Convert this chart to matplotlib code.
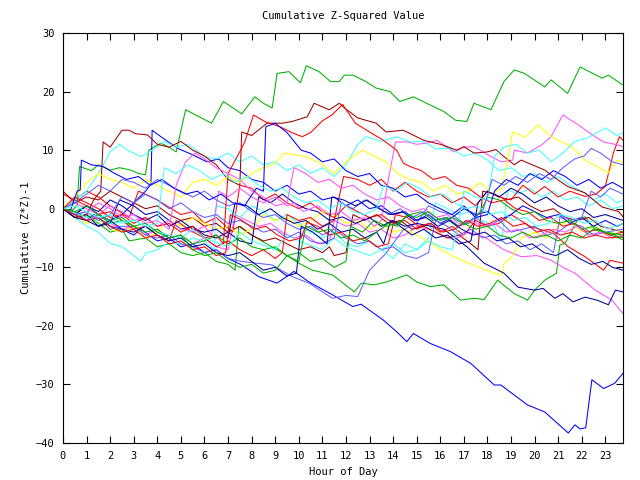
import numpy as np
import matplotlib
matplotlib.use('Agg')
import matplotlib.pyplot as plt

# colours as seen in the reference (gnuplot-like palette)
RED, GREEN, BLUE = '#ff0000', '#00b000', '#0000ff'
MAG, CYAN, DRED = '#ff50ff', '#40ffff', '#a00000'
YEL, LBLUE, NAVY = '#ffff00', '#6060ff', '#0000a0'

# each series: (hour, cumulative value) points
green_top = [(0,0),(0.3,-0.5),(0.6,0.5),(0.7,7.2),(1.2,6.5),(1.5,7.5),(2,6.6),(2.4,7),(2.87,6.6),(3.2,6),(3.5,5.8),(3.64,10),(4.15,11.2),(4.5,10.5),(4.8,9.7),(5.2,16.9),(5.87,15.5),(6.3,14.6),(6.8,18.3),(7.1,17.5),(7.58,16.2),(8.14,19.1),(8.5,18),(8.87,17.2),(9.08,23.1),(9.58,23.4),(10.07,21.5),(10.32,24.4),(10.86,23.4),(11.35,21.7),(11.72,21.7),(11.93,22.8),(12.3,22.8),(12.8,21.8),(13.28,20.6),(13.86,20),(14.29,18.3),(14.86,19.1),(15.42,18),(16.15,16.6),(16.65,15.1),(17.13,14.9),(17.43,18),(18.15,16.9),(18.7,21.7),(19.14,23.7),(19.57,23.1),(20.43,20.8),(20.7,22),(21.4,19.7),(21.93,24.2),(22.86,22.3),(23.13,22.8),(23.75,21.1)]
blue_low = [(0,0),(0.5,-1),(1,-2),(1.3,-1),(2,-3),(2.5,-3.5),(3,-4.5),(3.3,-3.5),(4,-5.5),(4.5,-5),(5,-6.5),(5.5,-6),(6,-7.5),(6.5,-7),(7,-8.5),(7.58,-9.6),(8.3,-11.6),(9.08,-12.7),(9.8,-10.7),(10.43,-12.5),(11.43,-14.7),(12.29,-16.7),(12.64,-16.3),(13.58,-19),(14.15,-21),(14.58,-22.7),(14.86,-21.3),(15.57,-23),(16.43,-24.4),(17.29,-26.4),(18.29,-30.1),(18.57,-30.1),(19.7,-33.5),(20.43,-34.7),(21.43,-38.3),(21.71,-36.9),(21.93,-37.6),(22.17,-37.4),(22.43,-29.2),(22.93,-30.7),(23.4,-29.8),(23.75,-28.1)]
green_low = [(0,0),(0.5,-1.5),(1,-1),(1.5,-2.5),(2,-4),(2.5,-3.5),(2.8,-5.5),(3.5,-5),(4,-6.5),(4.5,-6),(5,-7.5),(5.5,-8),(6,-7.5),(6.5,-9),(7,-9.5),(7.3,-10.5),(7.45,-3),(8,-4.5),(8.72,-6.2),(9.3,-7.5),(10,-9.3),(10.58,-10.5),(11.43,-11.3),(12.36,-14.2),(12.65,-12.7),(13.2,-13),(13.72,-12.5),(14.58,-11.3),(15,-12.5),(15.57,-13.3),(16.15,-13),(16.86,-15.6),(17.43,-15.3),(17.86,-15.5),(18.43,-12.2),(19.14,-14.5),(19.7,-15.6),(20,-13.9),(20.43,-12.2),(20.93,-11),(21.07,-6.2),(21.29,-5.9),(21.86,-1.6),(22.14,-1.4),(22.57,-3.6),(23.43,-4.8),(23.75,-5.3)]
lblue_dip = [(0,0),(0.5,-0.5),(1,-2),(1.5,-1.5),(2,-3.5),(2.5,-3),(3,-3),(3.5,-4.5),(4,-5),(4.5,-4.5),(5,-6),(5.5,-6.5),(6,-7.5),(6.5,-7),(7,-8.5),(7.58,-9),(8.2,-9.3),(8.87,-9.6),(9.72,-11.6),(10.43,-12.7),(11.43,-15.3),(12,-14.8),(12.5,-15),(13,-10.5),(13.7,-7.6),(14.43,-3.6),(15,-2.5),(15.5,0.5),(16,-0.5),(16.5,-1),(17,-2.5),(17.5,-1.5),(18,-3),(18.5,-2),(19,-4),(19.5,-3.5),(20,-3),(20.5,-4.5),(21,-4),(21.5,-2.5),(22,-3),(22.5,-4.5),(23,-4),(23.75,-3.5)]
navy_low = [(0,0),(0.5,-1.5),(1,-1),(1.5,-3),(2,-2.5),(2.4,1.5),(3,0.5),(3.5,-1),(4,-0.5),(4.5,-2),(5,-3.5),(5.5,-3),(6,-4.5),(6.5,-5),(7,-4),(7.5,-5.5),(8,-6),(8.3,2),(8.8,1),(9.3,2.5),(9.8,1),(10.3,0),(10.8,-0.5),(11.3,-2),(11.86,-1.4),(12.4,-2.5),(13,-1.5),(13.5,-3),(14,-2),(14.5,-3),(15,-2.5),(15.6,-3),(16.15,-3.5),(17.13,-6.5),(17.86,-9.3),(18.7,-11),(19.3,-13.4),(20,-13.9),(20.36,-13.6),(20.86,-15.3),(21.2,-14.5),(21.63,-15.9),(22.14,-15.1),(22.64,-15.6),(23.13,-16.4),(23.43,-13.9),(23.75,-14.2)]
mag_low = [(0,0),(0.5,-1),(1,-2),(1.5,-1),(2,-2.5),(2.5,-3.5),(3,-3),(3.5,-4.5),(4,-3.5),(4.5,-5),(5,-4.5),(5.5,-6),(6,-5),(6.5,-6.5),(7,-7),(7.3,-1),(7.8,-2),(8.3,-3),(8.8,-2.5),(9.3,-4),(9.8,-5),(10.3,-4.5),(10.8,-6),(11.3,-5.5),(11.5,-2),(12,-3),(12.5,-2.5),(13,-4),(13.5,-3.5),(14,-5),(14.5,-4.5),(15,-3),(15.57,-3.6),(16.1,-4.5),(16.57,-5.3),(17.2,-4),(17.86,-4.8),(18.7,-7),(19.43,-8.2),(20.1,-8),(20.7,-8.8),(21.2,-10),(21.71,-11),(22.57,-13.9),(23.28,-15.6),(23.75,-17.9)]
red_low = [(0,2.5),(0.5,1.5),(1,3),(1.5,2),(2,0.5),(2.8,-1.5),(3.2,3),(4,1.5),(5,-1),(5.5,-0.5),(6,-2.5),(6.5,-1.5),(7.2,-4),(7.5,4),(8,3.5),(8.5,1.5),(9,2.5),(9.5,1),(10,0),(10.5,1),(11,-0.5),(11.5,-1.5),(12,0.5),(12.5,-0.5),(13,-1.5),(13.5,-1),(14,-2.5),(14.5,-2),(15,-3.5),(15.5,-2.5),(16,-4),(16.5,-3),(17,-4.5),(17.5,-2),(18,-3),(18.5,-2.5),(19,-1),(19.8,-3),(20.8,-4.2),(21.43,-6.5),(22.14,-8.2),(22.93,-10.5),(23.2,-8.8),(23.75,-9.3)]
red_rise = [(0,0),(0.5,1.5),(1,0.5),(1.5,-1),(2,-0.5),(2.5,-2),(3,-3.5),(3.5,-3),(4,-4.5),(4.5,-5.5),(4.8,-2),(5.3,-3.5),(6,-5),(6.5,-6.5),(7,-5.5),(7.5,-7),(8,-8),(8.5,-7),(9,-8.5),(9.3,-7.5),(9.5,-1),(10,-2),(10.5,-1.5),(11,-3),(11.5,-2),(11.9,5.5),(12.5,5),(13,4),(13.5,5),(14,3),(14.5,4.5),(15,3),(15.5,2),(16,2.5),(16.5,1),(17,2),(17.5,0.5),(18,3),(18.5,2),(19,1.5),(19.5,4),(20,2.5),(20.43,3.8),(21,2),(21.5,3),(22.14,2.1),(22.6,2.5),(23,3.8),(23.34,9.5),(23.6,12.3),(23.75,11.7)]
mag_high = [(0,0),(0.5,1),(1,0),(1.5,-1),(2,0.5),(2.5,-0.5),(3,-2),(3.5,-1.5),(4,-3),(4.5,-2),(5,-3.5),(5.5,-4),(6,-3),(6.3,-4.5),(6.6,3),(7,2),(7.5,3.5),(8,2),(8.5,1),(9,2),(9.5,0.5),(9.8,1),(10.2,-0.5),(10.8,0.5),(11.3,-1),(11.8,-0.5),(12.3,-2),(12.8,-1.5),(13.2,-3),(13.5,-2),(13.8,5),(14.1,11.4),(14.6,11.4),(15,11),(15.43,11.2),(15.86,11.7),(16.57,9.7),(17,10.5),(17.43,10.6),(18.15,8.9),(18.6,8),(19.07,8.3),(19.14,10),(19.7,9.5),(20.3,10.9),(20.7,12.3),(21.2,16),(21.86,14.3),(22.57,12.3),(22.93,11.4),(23.4,11),(23.75,10.6)]
yel_high = [(0,0),(0.5,2),(1,4.5),(1.5,6),(2,5),(2.5,4.5),(3,3.5),(3.5,5),(4,4),(4.5,3),(5,2),(5.5,4.5),(6,5),(6.5,4),(7,5.5),(7.5,4.5),(8,6),(8.5,7),(8.9,7.5),(9.4,9.5),(10.3,8.9),(10.9,7.8),(11.5,6),(12,8),(12.7,10),(13.2,9),(13.7,8),(14.2,6),(14.7,5),(15.2,4.5),(15.7,3),(16.2,4),(16.7,2.5),(17.2,3),(17.7,4.5),(18.2,2.5),(18.6,3.5),(18.86,8.3),(19.07,13.1),(19.6,12.2),(20.14,14.3),(20.7,12.3),(21.57,10.6),(22.14,8.3),(23.13,6.1),(23.5,8.3),(23.75,7.8)]
yel_low = [(0,0),(0.5,-1),(1,-2.5),(1.5,-2),(2,-3.5),(2.5,-4),(3,-3),(3.5,-5),(4,-4),(4.5,-2),(5,-3),(5.5,-1.5),(6,-2.5),(6.5,-3.5),(7,-3),(7.5,-4.5),(8,-3.5),(8.5,-1),(9,-2),(9.5,-1.5),(10,-3),(10.5,-2),(11,-0.5),(11.5,-1),(12,-2.5),(12.5,-2),(13,-3.5),(13.5,-2.5),(14,-4),(14.5,-3.5),(15,-4.5),(15.57,-5.9),(16.57,-8.2),(17.57,-9.9),(18.29,-11),(18.64,-11.3),(18.7,-9.3),(19,-8.4),(19.36,-5.9),(19.43,-5),(20,-4),(20.5,-5),(21,-3),(21.5,-2),(22,-4),(22.5,-3),(23,-4.5),(23.5,-3.5),(23.75,-4.5)]
cyan_low = [(0,0),(0.5,-1.5),(1,-3),(1.5,-4),(2,-5.9),(2.5,-6.5),(3,-8),(3.3,-9),(3.5,-7.6),(4,-7),(4.43,-5.9),(5,-6),(5.5,-5),(6,-5.5),(6.4,-7),(6.5,0.5),(7,0),(7.5,-1.5),(8,0.5),(8.5,-0.5),(9,-2),(9.5,-1),(10,-2.5),(10.5,-4),(11,-5),(11.5,-4),(12,-6),(12.5,-6.5),(13,-5.5),(13.5,-7),(14,-6),(14.5,-7.5),(15,-7),(15.5,-5),(15.8,1),(16.3,0),(16.8,-1),(17.3,-0.5),(17.8,-2),(18.3,-3),(18.6,-5.6),(18.86,3.2),(19.3,2.5),(19.8,3.5),(20.3,2),(20.8,3),(21.3,1.5),(21.8,2),(22.3,0.5),(22.8,1.5),(23.3,0),(23.75,0.5)]
cyan_high = [(0,0),(0.5,1.5),(1,3),(1.5,6),(2,9.7),(2.4,11),(2.73,10),(3.3,8.9),(3.8,10),(4.3,11.5),(4.8,10.5),(5.3,11),(6,8.9),(6.5,8.5),(7,9.5),(7.5,8),(8,9),(8.5,7.5),(9,8),(9.5,6.5),(10,7.5),(10.5,6),(11,7),(11.5,5.5),(12,7.5),(12.5,11),(12.85,12.3),(13.5,11.5),(14.15,12.3),(14.72,11.4),(15.3,11.5),(15.8,10.2),(16.43,10.3),(17,9),(17.5,9.5),(18,8.3),(18.5,6.5),(19,7),(19.5,5.5),(20,6),(20.5,4.5),(21,5.5),(21.5,4),(22,3),(22.5,1.5),(23,2.5),(23.5,1),(23.75,1.5)]
cyan_right = [(0,0),(1,-1.5),(2,-2.5),(3,-2),(4,-4),(5,-5),(5.5,-3.5),(6,-5),(7,-6.5),(7.5,-4),(8,-5.5),(9,-7),(9.5,-4.5),(10,-5.5),(11,-7),(11.5,-5),(12,-6.5),(13,-8),(13.5,-7),(14,-8.5),(14.5,-6),(15,-7),(15.5,-5.5),(16,-6.5),(16.5,-7),(16.8,-2),(17,3),(17.5,2),(18,1.5),(18.3,9),(18.7,10.5),(19.2,11),(19.7,9.5),(20.2,10),(20.7,8),(21.2,9.5),(21.7,11.5),(22.2,12),(22.7,13.1),(23,13.8),(23.5,12.5),(23.75,13)]
blue_peak = [(0,0),(0.5,-1),(1,0.5),(1.5,-1),(2,-2),(2.5,-1),(3,1),(3.5,3),(3.73,4.2),(3.78,13.4),(4.15,12.3),(4.87,10.3),(5.5,9.2),(6.1,8),(6.6,8.5),(7,7),(7.5,6.5),(8,5),(8.5,4.5),(9,3),(9.5,4),(10,2.5),(10.5,3),(11,1.5),(11.5,2),(12,0.5),(12.5,1.5),(13,0),(13.5,0.5),(14,-1),(14.5,-0.5),(15,-2),(15.5,-1),(16,-2.5),(16.5,-1.5),(17,0),(17.5,-1),(18,-0.5),(18.5,-2),(19,-1),(19.5,0.5),(20,-0.5),(20.5,-1.5),(21,-1),(21.5,-2.5),(22,-1.5),(22.5,-3),(23,-2),(23.5,-3),(23.75,-2.5)]
blue_jump = [(0,0),(0.3,-0.5),(0.6,3),(0.73,3.2),(0.78,8.3),(1.2,7.5),(1.7,7.2),(2.2,6),(2.7,5),(3.2,5.5),(3.7,4),(4.2,5),(4.7,3.5),(5.2,2.5),(5.7,3),(6.2,1.5),(6.7,2.5),(7.2,1),(7.7,0.5),(8.2,3.5),(8.5,3),(8.6,14),(9,14.6),(9.5,13),(10.1,10),(10.5,9.5),(11,8),(11.5,8.5),(12,6.5),(12.5,5.5),(13,6),(13.5,4),(14,3.5),(14.5,2),(15,2.5),(15.5,1),(16,0),(16.5,-1),(17,0.5),(17.5,-1.5),(18,-1),(18.3,3),(18.8,5),(19.3,4),(19.8,6),(20.3,5),(20.8,6.5),(21.3,5.5),(21.8,4),(22.3,5),(22.8,3.5),(23.3,4.5),(23.75,3.5)]
dred_top = [(0,0),(0.5,-1.5),(1,-1),(1.3,1.5),(1.6,3),(1.7,11.4),(2,10.5),(2.5,13.4),(2.8,13.4),(3.08,12.8),(3.58,12.6),(4,11),(4.5,10.5),(5,11.5),(5.5,10),(6,9),(6.5,7.5),(7,5),(7.5,4),(7.58,13.1),(8,12.5),(8.65,14.6),(9.3,14.6),(9.72,14.9),(10.36,15.7),(10.65,18),(11.29,16.9),(11.72,18),(12,17),(12.5,15.5),(13.28,14.6),(13.7,13.1),(14.43,13.4),(15.29,11.7),(16,11),(16.7,10),(17,10.6),(17.43,9.5),(18,9.7),(18.36,10.1),(18.7,8.9),(19.14,7.5),(19.43,8.3),(20.43,6.6),(21,4.9),(21.4,3.8),(22.14,2.7),(22.86,0.3),(23.57,-0.5),(23.75,-1.4)]
red_top = [(0,0),(0.5,2),(1,1),(1.5,0),(2,-1.5),(2.5,-1),(3,-2.5),(3.5,-1.5),(4,-3),(4.5,-2.5),(5,-4),(5.5,-3),(6,-5),(6.5,-4.5),(6.8,-6),(7,6),(7.4,9),(7.7,11.3),(8.08,16),(8.6,14.8),(9.2,14),(9.7,13),(10.15,12.3),(10.5,13),(11,15),(11.4,16),(11.86,17.8),(12.4,14.6),(13,13.1),(13.58,11.7),(14.15,10),(14.43,7.8),(14.72,7.2),(15.2,6.5),(15.7,5),(16.2,5.5),(16.7,4),(17.2,3.5),(17.7,2),(18.2,1),(18.7,1.5),(19.2,0),(19.7,-0.5),(20.2,-2),(20.7,-1.5),(21.2,-3),(21.7,-2.5),(22.2,-4),(22.7,-3.5),(23.2,-4.5),(23.75,-4)]
navy_mid1 = [(0,0),(0.5,-1),(1,0.5),(1.5,-0.5),(2,1.5),(2.5,0.5),(3,-1),(3.5,-2),(4,-1),(4.5,-3),(5,-2),(5.5,-3.5),(6,-4),(6.5,-3.5),(7,-5),(7.3,1),(7.8,0.5),(8.3,-1),(8.8,0),(9.3,-1.5),(9.8,-2.5),(10.3,-2),(10.8,-3.5),(11.3,-2.5),(11.8,-4),(12.3,-3.5),(12.8,-5),(13.3,-4),(13.6,-6),(13.9,-2),(14.3,-3),(14.8,-4.5),(15.3,-3.5),(15.8,-5),(16.3,-4.5),(16.8,-6),(17.3,-5.5),(17.6,1),(18,3),(18.5,2),(19,3.5),(19.5,2.5),(20,1),(20.5,2),(21,0.5),(21.5,-0.5),(22,0),(22.5,-1.5),(23,-1),(23.75,-2)]
navy_mid2 = [(0,0),(0.5,-1.5),(1,-2),(1.5,-3),(2,-2),(2.5,-3.5),(3,-4),(3.5,-3),(4,-4.5),(4.5,-5.5),(5,-5),(5.5,-6.5),(6,-6),(6.5,-7.5),(7,-8),(7.5,-7.5),(8,-9),(8.5,-10.5),(9,-10),(9.5,-11.5),(9.9,-11),(10.1,-3),(10.6,-4),(11.2,-6),(11.4,2),(11.9,1.5),(12.4,0.5),(12.9,1.5),(13.4,0),(13.9,-1),(14.4,-0.5),(14.9,-2),(15.4,-1.5),(15.9,-3),(16.4,-2),(16.9,-3.5),(17.4,-4.5),(17.9,-4),(18.4,-5.5),(18.9,-5),(19.4,-6.5),(19.9,-6),(20.4,-7.5),(20.9,-8),(21.4,-7),(21.9,-8.5),(22.4,-9.5),(22.9,-9),(23.3,-10),(23.75,-10.5)]
lblue_mid = [(0,0),(0.5,1),(1,2.5),(1.5,4),(2,3),(2.5,5),(3,4.5),(3.5,3.5),(4,5),(4.5,4),(5,3),(5.5,2),(6,3),(6.5,1.5),(7,0.5),(7.5,1),(8,-0.5),(8.5,-1.5),(9,-1),(9.5,-2.5),(10,-3.5),(10.5,-3),(11,-4.5),(11.5,-3.5),(12,-5),(12.5,-6),(13,-5.5),(13.5,-7),(14,-6.5),(14.5,-8),(15,-8.5),(15.5,-7.5),(15.8,-2),(16.3,-3),(16.8,-4.5),(17.3,-3.5),(17.8,-5),(18.3,-4.5),(18.8,-6),(19.3,-5.5),(19.8,-7),(20.3,-6),(20.8,-7.5),(21.1,-1),(21.5,-2),(22,-1.5),(22.4,3),(22.8,2),(23.2,3.5),(23.75,2.5)]
lblue_up = [(0,0),(0.5,-1),(1,-0.5),(1.5,-2),(2,-1),(2.5,2),(3,1),(3.5,2.5),(4,1.5),(4.5,0),(5,1),(5.5,-0.5),(6,-1.5),(6.5,-1),(7,-2.5),(7.5,-2),(8,-3),(8.5,-4),(9,-3.5),(9.5,-5),(10,-4),(10.5,-5.5),(11,-6),(11.5,-5),(11.8,1),(12.3,0),(12.8,1.5),(13.3,0.5),(13.8,-1),(14.3,0),(14.8,-1.5),(15.3,-0.5),(15.8,-2),(16.3,-1.5),(16.8,-3),(17.3,-2),(17.8,-0.5),(18.2,5),(18.7,4),(19.2,5.5),(19.7,4.5),(20.2,6),(20.7,5),(21.2,7),(21.7,8.5),(22.1,9),(22.4,10.3),(22.8,9.5),(23.3,8),(23.75,7.5)]
green_mid = [(0,0),(0.5,-0.5),(1,-1.5),(1.5,-1),(2,-2.5),(2.5,-2),(3,-3),(3.5,-4),(4,-3.5),(4.5,-5),(5,-4.5),(5.5,-6),(6,-5.5),(6.5,-4.5),(7,-6),(7.5,-5),(8,-6.5),(8.5,-7),(9,-6.5),(9.5,-8),(10,-7.5),(10.5,-9),(11,-8.5),(11.5,-10),(12,-9),(12.2,-3),(12.7,-4),(13.2,-2),(13.7,-3),(14.2,-2.5),(14.7,-1),(15.2,-0.5),(15.7,-2),(16.2,-1.5),(16.7,-3),(17.2,-2.5),(17.7,-0.5),(18,2),(18.5,1.5),(19,0),(19.5,-1),(20,-0.5),(20.5,-2),(21,-2.5),(21.5,-2),(22,-3.5),(22.5,-3),(23,-4),(23.75,-4.5)]
mag_mid = [(0,0),(0.5,-1),(1,-0.5),(1.5,1),(2,0),(2.5,-1.5),(3,-1),(3.5,-2.5),(4,-2),(4.5,-3.5),(4.8,4),(5.2,8),(5.6,9.5),(6,8.5),(6.5,7),(7,6),(7.5,5),(8,3),(8.5,2),(9,0.5),(9.5,1),(9.8,7),(10.3,6),(10.8,4.5),(11.3,5),(11.8,3.5),(12.3,4),(12.8,2.5),(13.3,1.5),(13.8,2),(14.3,0.5),(14.8,-0.5),(15.3,0),(15.8,-1.5),(16.3,-1),(16.8,-2.5),(17.3,-2),(17.8,-3),(18.3,-2.5),(18.8,-4),(19.3,-3.5),(19.8,-5),(20.3,-4.5),(20.8,-3.5),(21.3,-4),(21.8,-3),(22.3,-4.5),(22.8,-4),(23.3,-5),(23.75,-4.5)]
cyan_mid = [(0,0),(0.5,0.5),(1,-0.5),(1.5,-1.5),(2,-1),(2.5,-2.5),(3,-2),(3.5,-3),(4,-2.5),(4.3,7),(4.8,6),(5.3,7.5),(5.8,6.5),(6.3,5),(6.8,6),(7.3,4.5),(7.8,5.5),(8.3,4),(8.8,3),(9.3,3.5),(9.8,2),(10.3,1),(10.8,1.5),(11.3,0),(11.8,1),(12.3,-0.5),(12.8,-1),(13.3,0),(13.6,4),(14.1,3),(14.6,4.5),(15.1,3.5),(15.6,2),(16.1,2.5),(16.6,1),(17.1,0),(17.6,0.5),(18.1,-1),(18.6,-0.5),(19.1,-2),(19.6,-1.5),(20.1,-3),(20.6,-2.5),(21.1,-1),(21.6,-1.5),(22.1,-2.5),(22.6,-2),(23.1,-3.5),(23.75,-2.5)]
dred_mid = [(0,3),(0.5,1),(1,2),(1.5,1.5),(2,3),(2.5,2),(3,1),(3.5,0),(4,0.5),(4.5,-1),(5,-2),(5.5,-1.5),(6,-3),(6.5,-2.5),(7,-4),(7.5,-3),(8,-4.5),(8.5,-5.5),(9,-5),(9.5,-6),(10,-7),(10.5,-6.5),(11,-7.5),(11.3,-6.5),(11.5,-8),(12,-7.5),(12.3,-1),(12.8,-2),(13.3,-1),(13.8,-2.5),(14.3,-2),(14.8,-3.5),(15.3,-3),(15.8,-4),(16.3,-5),(16.8,-4.5),(17.3,-6),(17.6,-7),(17.8,3),(18.3,2.5),(18.8,1.5),(19.3,2),(19.8,0.5),(20.3,-0.5),(20.8,0),(21.3,-1.5),(21.8,-2),(22.3,-1.5),(22.8,-3),(23.3,-3.5),(23.75,-4)]
red_mid = [(0,0),(0.5,-1),(1,-2),(1.5,-1.5),(2,-3),(2.5,-4),(3,-3.5),(3.5,-5),(4,-4.5),(4.5,-6),(5,-5.5),(5.5,-7),(6,-6.5),(6.5,-8),(6.9,-7.5),(7.1,-1),(7.6,-2),(8.1,-3.5),(8.6,-3),(9.1,-4.5),(9.6,-5.5),(10.1,-5),(10.35,-2.3),(10.8,-3),(11.3,-4.5),(11.8,-4),(12.3,-5.5),(12.8,-5),(13.3,-6.5),(13.8,-6),(14.1,-1),(14.6,-1.5),(15.1,-3),(15.6,-2.5),(16.1,-4),(16.6,-3.5),(17.1,-2),(17.6,-3),(18.1,-2.5),(18.6,-1.5),(19.1,-3),(19.6,-2.5),(20.1,-4),(20.6,-3.5),(21.1,-4.5),(21.6,-4),(22.1,-5),(22.6,-4.5),(23.1,-5),(23.75,-4.8)]
green_mid2 = [(0,0),(0.5,-0.5),(1,0.5),(1.5,-1),(2,-2),(2.5,-1.5),(3,-3),(3.5,-2.5),(4,-4),(4.5,-5),(5,-4.5),(5.5,-7),(6,-8),(6.5,-7.5),(7,-9),(7.5,-10),(8,-9.5),(8.5,-11),(9,-10.5),(9.5,-8),(10,-9),(10.3,-3),(10.8,-4),(11.3,-3.5),(11.8,-5),(12.3,-4.5),(12.8,-5.5),(13.3,-4),(13.8,-2.5),(14.2,-3),(14.6,-1),(15,-1.5),(15.5,-0.5),(16,-2),(16.5,-1.5),(17,-2.5),(17.5,-3.5),(18,-3),(18.5,-4.5),(19,-5),(19.5,-4),(20,-5),(20.5,-4.5),(21,-5.5),(21.5,-4.5),(22,-5),(22.5,-3.5),(23,-4),(23.75,-5)]

series = [
    (red_low, RED), (green_low, GREEN), (blue_low, BLUE), (mag_low, MAG),
    (cyan_low, CYAN), (dred_mid, DRED), (yel_low, YEL), (lblue_dip, LBLUE),
    (navy_low, NAVY), (red_rise, RED), (green_top, GREEN), (blue_peak, BLUE),
    (mag_high, MAG), (cyan_high, CYAN), (dred_top, DRED), (yel_high, YEL),
    (lblue_mid, LBLUE), (navy_mid1, NAVY), (red_top, RED), (green_mid, GREEN),
    (blue_jump, BLUE), (mag_mid, MAG), (cyan_right, CYAN),
    (lblue_up, LBLUE), (navy_mid2, NAVY), (red_mid, RED), (green_mid2, GREEN),
    (cyan_mid, CYAN),
]

plt.rcParams['font.family'] = 'DejaVu Sans Mono'
plt.rcParams['font.size'] = 7.5

fig = plt.figure(figsize=(6.4, 4.8), dpi=100)
ax = fig.add_axes([63/640, 1-443/480, 560/640, 410/480])

for pts, col in series:
    pts = np.array(pts)
    ax.plot(pts[:, 0], pts[:, 1], color=col, lw=0.75, antialiased=True)

ax.set_xlim(0, 23.75)
ax.set_ylim(-40, 30)
ax.set_xticks(range(24))
ax.set_yticks(range(-40, 31, 10))
ax.tick_params(direction='in', length=5, width=0.8, top=True, right=True,
               pad=6, colors='black')
for s in ax.spines.values():
    s.set_linewidth(0.8)

ax.set_title('Cumulative Z-Squared Value', fontsize=7.5, pad=10)
ax.set_xlabel('Hour of Day', labelpad=4)
ax.set_ylabel('Cumulative (Z*Z)-1', labelpad=4)

fig.savefig('out.png', dpi=100)
